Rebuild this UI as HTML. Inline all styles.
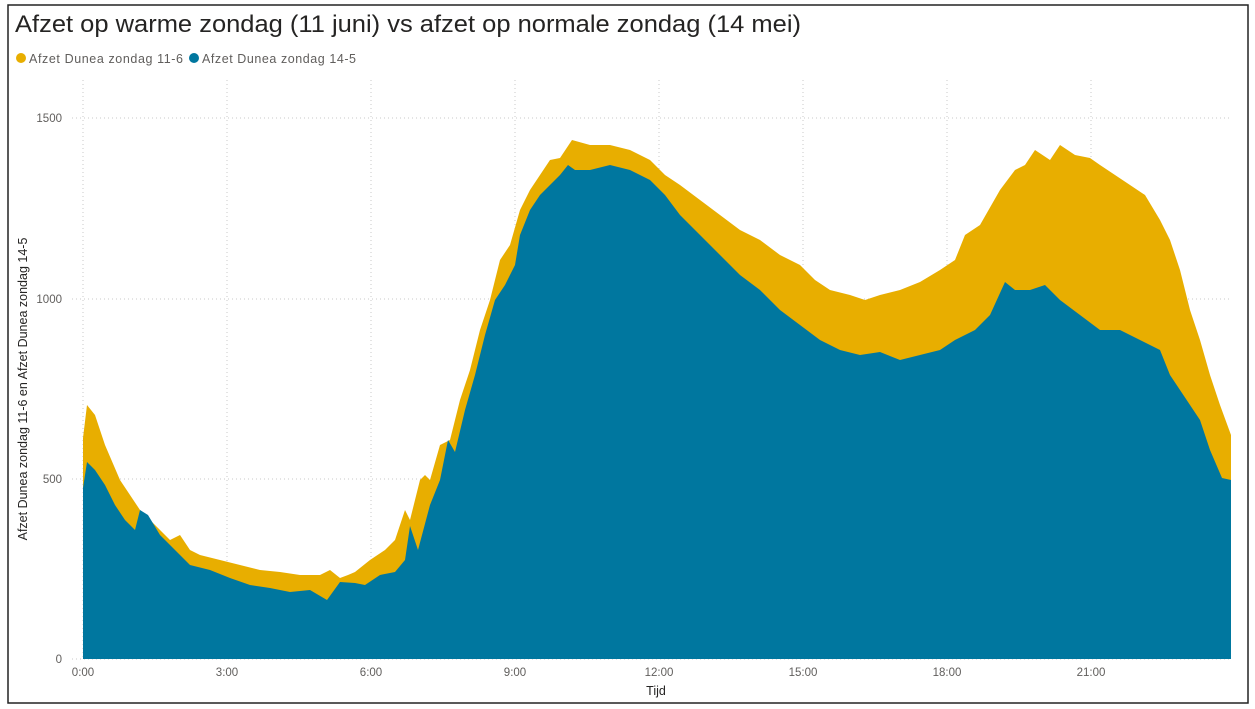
<!DOCTYPE html>
<html><head><meta charset="utf-8"><style>
body{margin:0;background:#fff;}
</style></head><body>
<svg width="1255" height="709" xmlns="http://www.w3.org/2000/svg" style="display:block;font-family:'Liberation Sans',sans-serif">
<rect x="8" y="5" width="1240" height="698" fill="#fff" stroke="#222" stroke-width="1.5"/>
<text x="15" y="32" font-size="24" fill="#252423" textLength="786" lengthAdjust="spacingAndGlyphs">Afzet op warme zondag (11 juni) vs afzet op normale zondag (14 mei)</text>
<circle cx="21" cy="58" r="5" fill="#E8AE00"/>
<text x="29" y="63" font-size="12.5" fill="#605E5C" textLength="154">Afzet Dunea zondag 11-6</text>
<circle cx="194" cy="58" r="5" fill="#00779F"/>
<text x="202" y="63" font-size="12.5" fill="#605E5C" textLength="154">Afzet Dunea zondag 14-5</text>
<g stroke="#c8c8c8" stroke-dasharray="1,3" stroke-width="1">
<line x1="72" y1="118" x2="1232" y2="118"/><line x1="72" y1="299" x2="1232" y2="299"/><line x1="72" y1="479" x2="1232" y2="479"/><line x1="72" y1="659" x2="1232" y2="659"/>
<line x1="83" y1="80" x2="83" y2="659"/><line x1="227" y1="80" x2="227" y2="659"/><line x1="371" y1="80" x2="371" y2="659"/><line x1="515" y1="80" x2="515" y2="659"/><line x1="659" y1="80" x2="659" y2="659"/><line x1="803" y1="80" x2="803" y2="659"/><line x1="947" y1="80" x2="947" y2="659"/><line x1="1091" y1="80" x2="1091" y2="659"/>
</g>
<polygon fill="#E8AE00" points="83,659 83,438 87,405 95,415 105,445 120,480 140,510 160,530 170,540 180,535 190,550 200,555 220,560 240,565 260,570 280,572 300,575 320,575 330,570 340,578 348,575 355,572 360,568 370,560 385,550 395,540 405,510 410,520 420,480 425,475 430,480 440,445 450,440 460,400 470,370 480,330 490,300 500,260 510,245 520,210 530,190 540,175 550,160 560,158 572,140 590,145 610,145 630,150 650,160 665,175 680,185 700,200 720,215 740,230 760,240 780,255 800,265 815,280 830,290 850,295 865,300 880,295 900,290 920,282 940,270 955,260 965,235 980,225 1000,190 1015,170 1025,165 1035,150 1050,160 1060,145 1075,155 1090,158 1100,165 1115,175 1130,185 1145,195 1160,220 1170,240 1180,270 1190,310 1200,340 1210,375 1220,405 1231,435 1231,659"/>
<polygon fill="#00779F" points="83,659 83,488 87,462 95,470 105,485 115,505 125,520 135,530 140,510 148,515 160,535 175,550 190,565 210,570 230,578 250,585 270,588 290,592 310,590 327,600 340,582 355,583 365,585 380,575 395,572 405,560 410,526 418,550 430,505 440,480 448,440 455,452 465,410 475,375 485,335 495,300 505,285 515,265 520,235 530,210 540,195 550,185 560,175 568,165 575,170 590,170 610,165 630,170 650,180 665,195 680,215 700,235 720,255 740,275 760,290 780,310 800,325 820,340 840,350 860,355 880,352 900,360 920,355 940,350 955,340 975,330 990,315 1005,282 1015,290 1030,290 1045,285 1060,300 1080,315 1100,330 1120,330 1140,340 1160,350 1170,375 1180,390 1190,405 1200,420 1210,450 1222,478 1231,480 1231,659"/>
<g font-size="11.5" fill="#605E5C" text-anchor="end">
<text x="62" y="122">1500</text><text x="62" y="303">1000</text><text x="62" y="483">500</text><text x="62" y="663">0</text>
</g>
<g font-size="11.5" fill="#605E5C" text-anchor="middle">
<text x="83" y="676">0:00</text><text x="227" y="676">3:00</text><text x="371" y="676">6:00</text><text x="515" y="676">9:00</text><text x="659" y="676">12:00</text><text x="803" y="676">15:00</text><text x="947" y="676">18:00</text><text x="1091" y="676">21:00</text>
</g>
<text x="656" y="695" font-size="12.5" fill="#252423" text-anchor="middle">Tijd</text>
<text transform="translate(27,389) rotate(-90)" font-size="12.5" fill="#252423" text-anchor="middle">Afzet Dunea zondag 11-6 en Afzet Dunea zondag 14-5</text>
</svg>
</body></html>
